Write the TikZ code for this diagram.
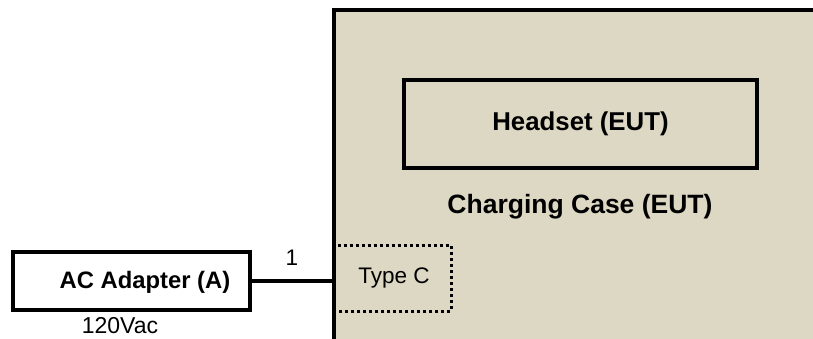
\documentclass[tikz,border=0pt]{standalone}
\usepackage{fontspec}
\setmainfont{Liberation Sans}
\definecolor{casefill}{RGB}{221,216,195}
\begin{document}
\begin{tikzpicture}[x=1pt,y=-1pt,
  box/.style={draw=black,line width=3.3pt,inner sep=0pt,anchor=center},
  boldlbl/.style={font=\fontsize{24}{28}\selectfont\bfseries,inner sep=0pt,anchor=center},
  reglbl/.style={font=\fontsize{22.5}{26}\selectfont,inner sep=0pt,anchor=center},
  dotline/.style={line width=3.3pt,dash pattern=on 3pt off 3pt}]
\useasboundingbox (0,0) rectangle (813,338);
\clip (0,0) rectangle (813,338);
% charging case
\node[box,fill=casefill,minimum width=496pt,minimum height=340pt] (case) at (582,180) {};
\node[box,minimum width=353pt,minimum height=88pt] (headset) at (580.5,124) {};
\node[boldlbl,font=\fontsize{25.8}{28}\selectfont\bfseries] (headsetlbl) at (headset.center) {Headset (EUT)};
\node[boldlbl,font=\fontsize{26.5}{28}\selectfont\bfseries] (caselbl) at (580,207) {Charging Case (EUT)};
% type C port
\node[minimum width=115pt,minimum height=65pt,inner sep=0pt] (typec) at (393.5,278.5) {};
\node[reglbl] (typeclbl) at (394,278) {Type C};
\draw[dotline] ([xshift=2pt]typec.north west) -- (typec.north east) -- (typec.south east) -- ([xshift=2pt]typec.south west);
% AC adapter
\node[box,fill=white,minimum width=237pt,minimum height=58pt] (ac) at (131.5,281) {};
\node[boldlbl,font=\fontsize{23.8}{28}\selectfont\bfseries] (aclbl) at (145,282) {AC Adapter (A)};
\node[reglbl,font=\fontsize{23}{26}\selectfont] (vac) at (120,325.5) {120Vac};
% cable
\draw[line width=3.3pt] (ac.east) -- (case.west |- ac.east) node[midway,above=14pt,reglbl,anchor=south] (cablelbl) {1};
\end{tikzpicture}
\end{document}
